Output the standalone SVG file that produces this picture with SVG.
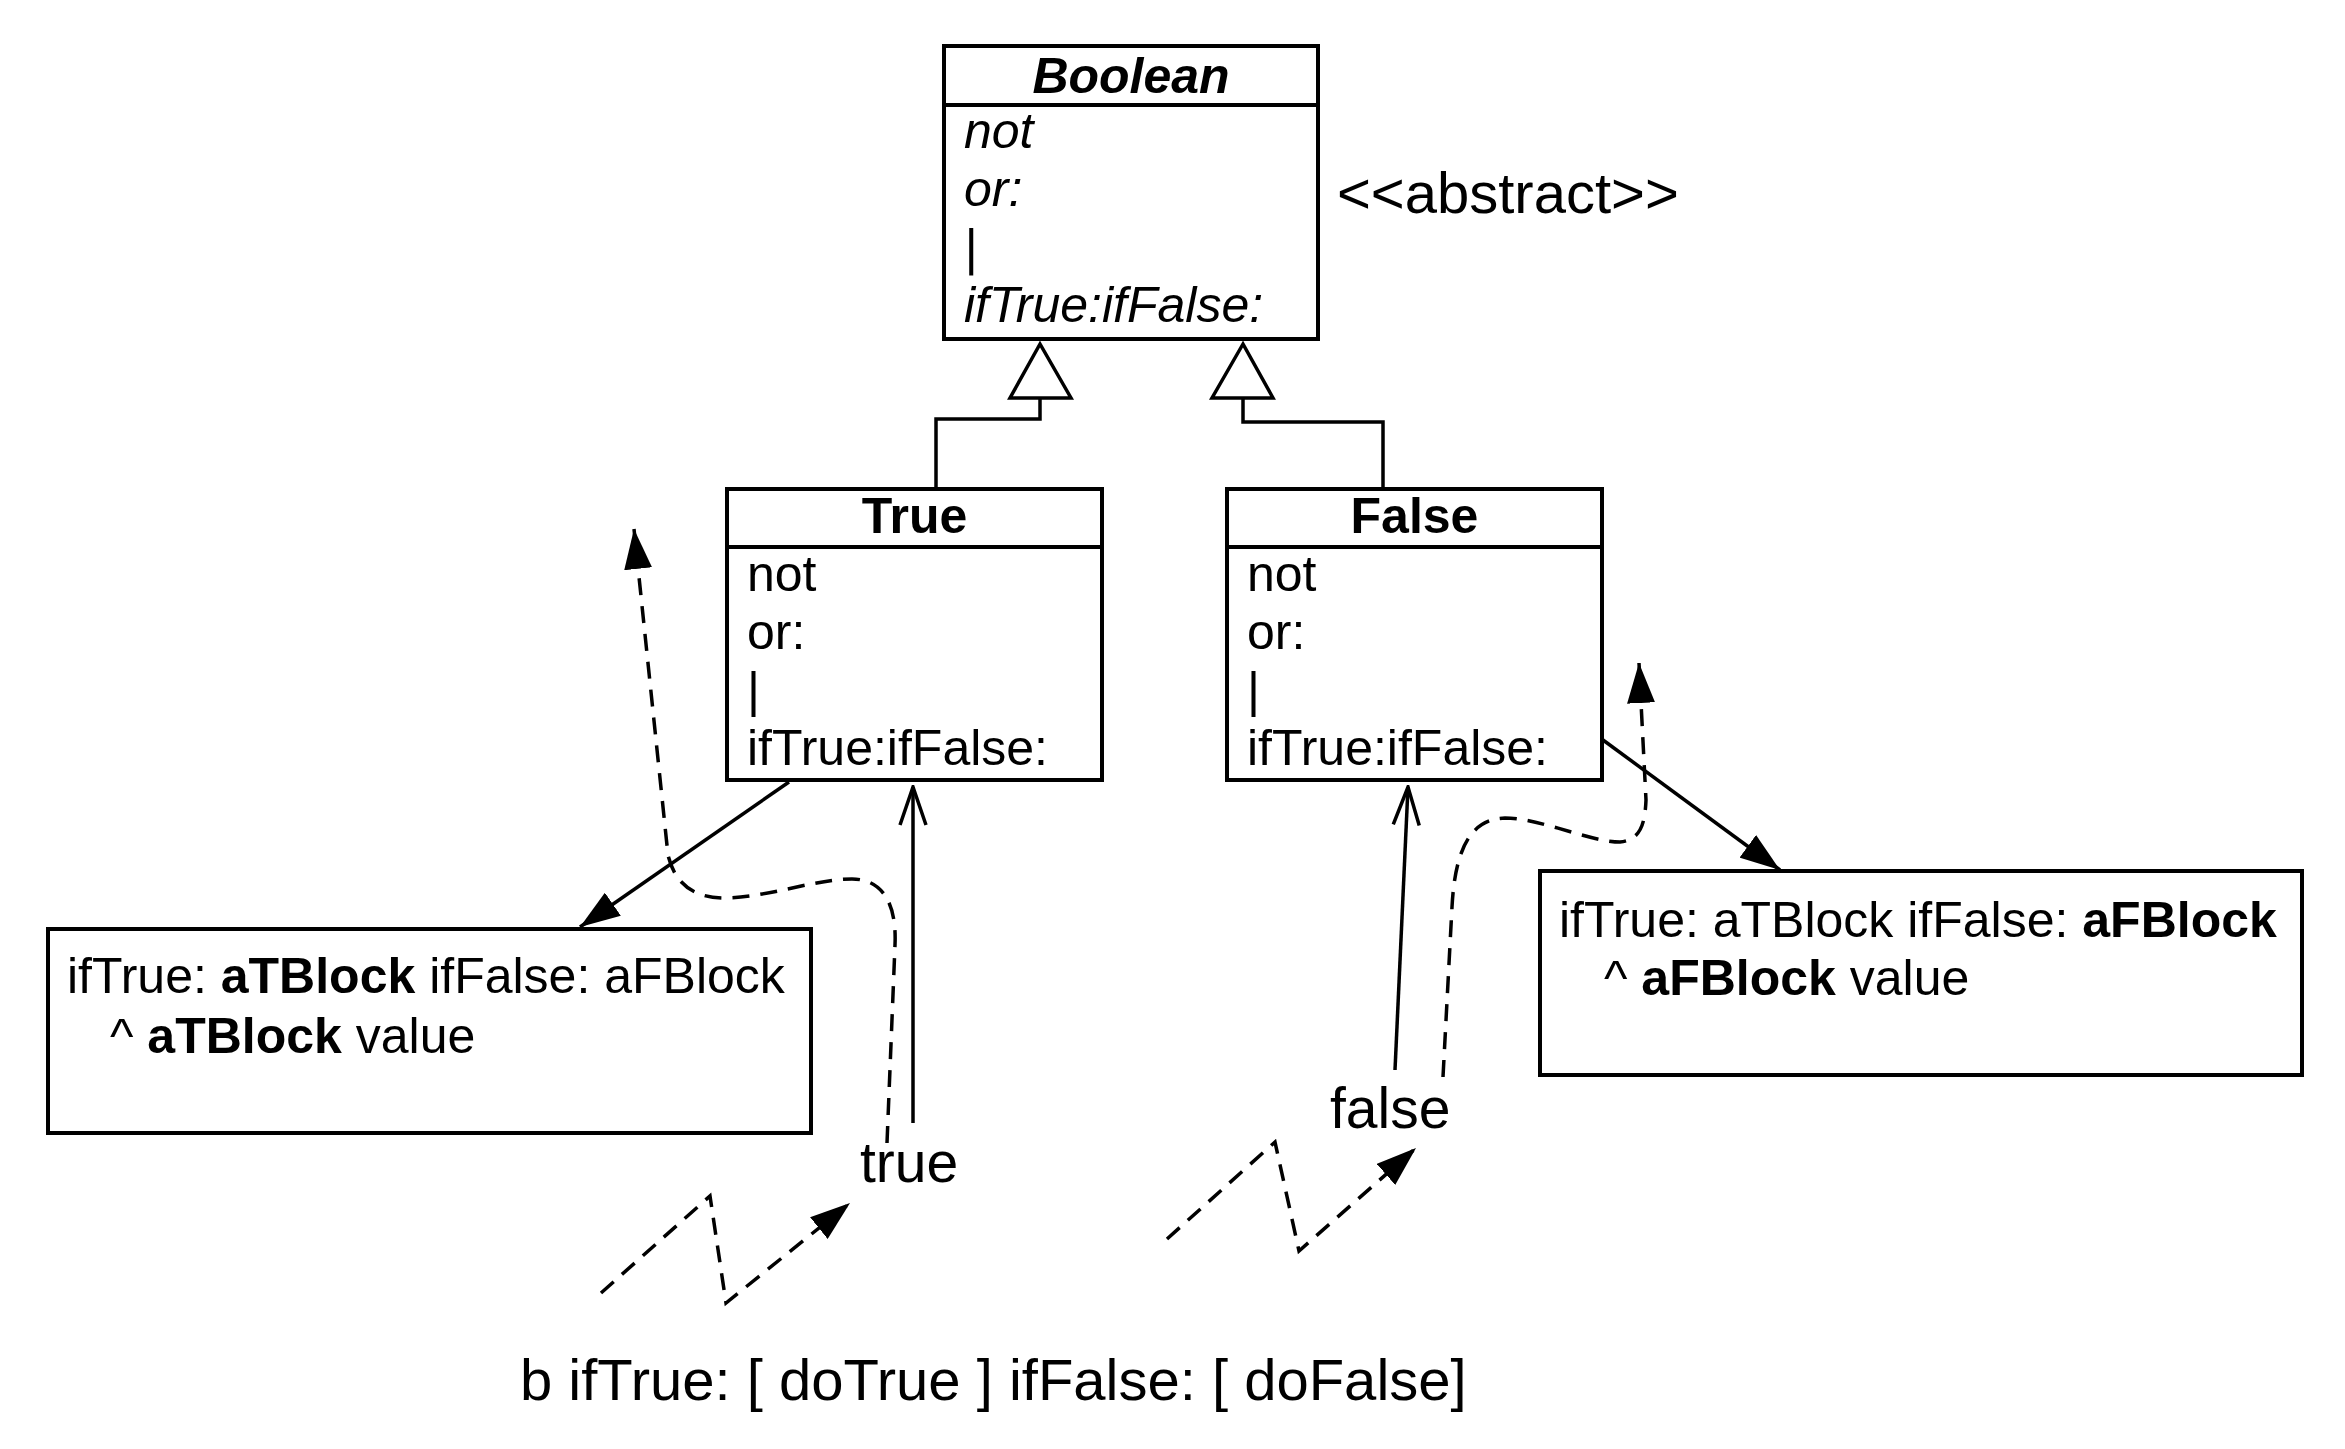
<svg xmlns="http://www.w3.org/2000/svg" width="2345" height="1449" viewBox="0 0 2345 1449">
<style>
text { font-family: "Liberation Sans", Arial, Helvetica, sans-serif; fill: #000; }
.cls { font-size: 50px; }
.hdr { font-size: 50px; font-weight: bold; text-anchor: middle; }
.it { font-style: italic; }
.b { font-weight: bold; }
.lbl { font-size: 57px; }
.big { font-size: 58px; }
.box { fill: #fff; stroke: #000; stroke-width: 4; }
.sep { stroke: #000; stroke-width: 4; }
.ln { fill: none; stroke: #000; stroke-width: 3.5; }
.dash { fill: none; stroke: #000; stroke-width: 3.5; stroke-dasharray: 17 11; }
</style>
<defs>
<marker id="filled" markerUnits="userSpaceOnUse" viewBox="0 0 40 28" refX="40" refY="14" markerWidth="40" markerHeight="28" orient="auto">
<path d="M0,0 L40,14 L0,28 Z" fill="#000" stroke="none"/>
</marker>
<marker id="open" markerUnits="userSpaceOnUse" viewBox="-2 -2 42 32" refX="38" refY="13" markerWidth="42" markerHeight="32" orient="auto">
<path d="M0,0 L38,13 L0,26" fill="none" stroke="#000" stroke-width="3.5" stroke-dasharray="none"/>
</marker>
</defs>
<rect width="2345" height="1449" fill="#fff"/>

<g id="connectors">
<polyline class="ln" points="936,489 936,419 1040,419 1040,398"/>
<polygon points="1040,344 1010,398 1071,398" fill="#fff" stroke="#000" stroke-width="3.5"/>
<polyline class="ln" points="1383,489 1383,422 1243,422 1243,398"/>
<polygon points="1243,344 1212,398 1273,398" fill="#fff" stroke="#000" stroke-width="3.5"/>
<line class="ln" x1="789" y1="782" x2="580" y2="927" marker-end="url(#filled)"/>
<line class="ln" x1="1603" y1="740" x2="1780" y2="870" marker-end="url(#filled)"/>
<line class="ln" x1="913" y1="1123" x2="913" y2="787" marker-end="url(#open)"/>
<line class="ln" x1="1395" y1="1070" x2="1408" y2="787" marker-end="url(#open)"/>
<path class="dash" d="M887,1143 L895,945 C897,900 880,879 852,879 C815,879 770,897 725,898 C695,898 675,885 668,855 L634,529" marker-end="url(#filled)"/>
<path class="dash" d="M1443,1077 L1452,907 C1455,850 1470,819 1505,818 C1540,818 1590,842 1620,842 C1640,840 1645,825 1646,800 L1639,663" marker-end="url(#filled)"/>
<polyline class="dash" points="601,1293 710,1196 726,1303 850,1203" marker-end="url(#filled)"/>
<polyline class="dash" points="1167,1239 1275,1142 1299,1251 1416,1148" marker-end="url(#filled)"/>
</g>

<g id="boolean">
<rect class="box" x="944" y="46" width="374" height="293"/>
<line class="sep" x1="944" y1="105" x2="1318" y2="105"/>
<text class="hdr it" x="1131" y="93">Boolean</text>
<text class="cls it" x="964" y="148">not</text>
<text class="cls it" x="964" y="206">or:</text>
<text class="cls it" x="964" y="264">|</text>
<text class="cls it" x="964" y="322">ifTrue:ifFalse:</text>
</g>

<g id="abstract">
<text class="big" x="1337" y="213">&lt;&lt;abstract&gt;&gt;</text>
</g>

<g id="true-class">
<rect class="box" x="727" y="489" width="375" height="291"/>
<line class="sep" x1="727" y1="547" x2="1102" y2="547"/>
<text class="hdr" x="914.5" y="533">True</text>
<text class="cls" x="747" y="591">not</text>
<text class="cls" x="747" y="649">or:</text>
<text class="cls" x="747" y="707">|</text>
<text class="cls" x="747" y="765">ifTrue:ifFalse:</text>
</g>

<g id="false-class">
<rect class="box" x="1227" y="489" width="375" height="291"/>
<line class="sep" x1="1227" y1="547" x2="1602" y2="547"/>
<text class="hdr" x="1414.5" y="533">False</text>
<text class="cls" x="1247" y="591">not</text>
<text class="cls" x="1247" y="649">or:</text>
<text class="cls" x="1247" y="707">|</text>
<text class="cls" x="1247" y="765">ifTrue:ifFalse:</text>
</g>

<g id="true-method">
<rect class="box" x="48" y="929" width="763" height="204"/>
<text class="cls" x="67" y="993">ifTrue: <tspan class="b">aTBlock</tspan> ifFalse: aFBlock</text>
<text class="cls" x="110" y="1053">^ <tspan class="b">aTBlock</tspan> value</text>
</g>

<g id="false-method">
<rect class="box" x="1540" y="871" width="762" height="204"/>
<text class="cls" x="1559" y="937">ifTrue: aTBlock ifFalse: <tspan class="b">aFBlock</tspan></text>
<text class="cls" x="1604" y="995">^ <tspan class="b">aFBlock</tspan> value</text>
</g>

<g id="true-label">
<text class="lbl" x="860" y="1182">true</text>
</g>
<g id="false-label">
<text class="lbl" x="1330" y="1128">false</text>
</g>
<g id="expression">
<text class="big" x="520" y="1400">b ifTrue: [ doTrue ] ifFalse: [ doFalse]</text>
</g>
</svg>
